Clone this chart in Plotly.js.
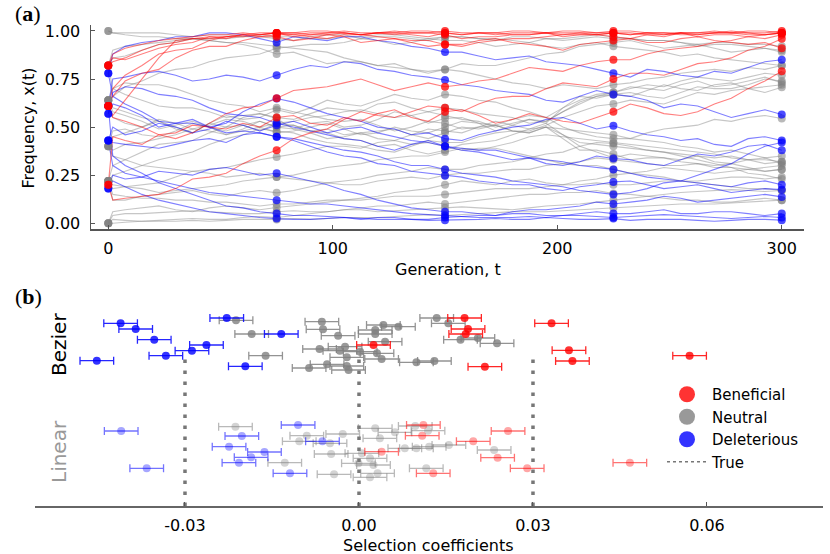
<!DOCTYPE html>
<html><head><meta charset="utf-8">
<script src="https://cdn.plot.ly/plotly-3.0.1.min.js"></script>
<style>html,body{margin:0;padding:0;background:#fff}</style>
</head><body><div id="chart" style="width:830px;height:554px"></div>
<script>
// ---------- Panel (a): allele frequency trajectories ----------
const gens = [0,2,7.5,15,22.5,30,37.5,45,52.5,60,67.5,75,82.5,90,97.5,105,112.5,120,127.5,135,142.5,150,157.5,165,172.5,180,187.5,195,202.5,210,217.5,225,232.5,240,247.5,255,262.5,270,277.5,285,292.5,300];
const sampleGens = [0,75,150,225,300];

const redTrajectories = [
 [0.82,0.84,0.86,0.90,0.93,0.94,0.96,0.96,0.97,0.98,0.98,0.99,0.98,0.99,0.99,1.00,0.99,0.99,1.00,0.99,0.99,1.00,0.99,0.99,0.98,0.99,0.99,0.99,1.00,1.00,0.99,0.99,0.98,0.99,0.99,0.99,0.99,1.00,0.99,0.99,0.98,0.99],
 [0.61,0.70,0.77,0.82,0.88,0.90,0.91,0.95,0.97,0.97,0.98,0.99,0.97,0.98,0.99,0.99,0.98,0.99,0.99,0.98,0.97,0.99,0.98,0.99,0.99,0.98,0.98,0.99,0.99,0.99,0.98,0.99,0.99,0.98,0.97,0.99,0.98,0.99,0.99,0.98,0.98,0.99],
 [0.82,0.86,0.85,0.88,0.91,0.93,0.94,0.97,0.96,0.98,0.97,0.98,0.98,0.97,0.96,0.98,0.98,0.99,0.98,0.99,0.99,0.98,0.96,0.97,0.97,0.98,0.98,0.99,0.97,0.98,0.98,0.97,0.96,0.98,0.98,0.99,0.97,0.98,0.98,0.97,0.96,0.98],
 [0.61,0.66,0.74,0.78,0.80,0.86,0.90,0.92,0.92,0.95,0.97,0.97,0.95,0.96,0.98,0.97,0.94,0.95,0.96,0.94,0.92,0.93,0.93,0.95,0.96,0.94,0.93,0.92,0.90,0.93,0.94,0.95,0.96,0.94,0.94,0.96,0.97,0.95,0.94,0.93,0.94,0.91],
 [0.20,0.12,0.13,0.14,0.15,0.18,0.23,0.24,0.26,0.31,0.35,0.38,0.44,0.47,0.49,0.54,0.58,0.56,0.55,0.58,0.61,0.60,0.58,0.62,0.65,0.66,0.66,0.70,0.73,0.72,0.71,0.75,0.78,0.78,0.77,0.80,0.83,0.84,0.86,0.90,0.92,0.96],
 [0.20,0.45,0.43,0.41,0.46,0.44,0.47,0.52,0.57,0.60,0.61,0.65,0.69,0.70,0.71,0.73,0.75,0.72,0.69,0.71,0.73,0.71,0.72,0.74,0.75,0.78,0.81,0.80,0.79,0.82,0.84,0.85,0.85,0.88,0.90,0.91,0.92,0.94,0.95,0.97,0.98,0.99],
 [0.61,0.56,0.64,0.75,0.86,0.95,0.96,0.97,0.97,0.98,0.99,0.99,0.99,0.98,0.98,0.99,0.98,0.97,0.96,0.95,0.95,0.93,0.92,0.94,0.95,0.96,0.96,0.97,0.98,0.98,0.98,0.99,0.98,0.99,0.99,0.98,0.98,0.99,1.00,0.99,0.99,1.00],
 [0.61,0.55,0.53,0.50,0.46,0.47,0.51,0.50,0.49,0.52,0.50,0.55,0.56,0.52,0.51,0.55,0.53,0.57,0.59,0.55,0.53,0.58,0.59,0.56,0.52,0.54,0.57,0.55,0.53,0.52,0.55,0.58,0.62,0.60,0.57,0.56,0.58,0.62,0.65,0.70,0.74,0.79],
 [0.82,0.88,0.91,0.93,0.95,0.96,0.97,0.98,0.98,0.99,0.98,0.99,0.99,1.00,1.00,0.99,0.98,0.99,0.99,1.00,1.00,0.99,0.98,0.99,0.99,1.00,1.00,0.99,0.98,0.99,0.99,1.00,1.00,0.99,0.98,0.99,0.99,0.99,0.99,1.00,1.00,0.99]
];
const blueTrajectories = [
 [0.78,0.88,0.92,0.94,0.95,0.97,0.97,0.99,0.99,0.98,0.96,0.94,0.97,0.96,0.95,0.97,0.97,0.95,0.94,0.92,0.91,0.89,0.89,0.87,0.85,0.86,0.87,0.84,0.83,0.82,0.80,0.78,0.76,0.80,0.79,0.77,0.76,0.79,0.78,0.81,0.84,0.85],
 [0.61,0.75,0.76,0.78,0.79,0.77,0.74,0.75,0.77,0.76,0.74,0.77,0.80,0.82,0.81,0.84,0.83,0.80,0.79,0.77,0.76,0.745,0.72,0.71,0.69,0.68,0.67,0.64,0.63,0.66,0.69,0.67,0.66,0.64,0.60,0.62,0.61,0.58,0.55,0.57,0.59,0.566],
 [0.57,0.62,0.60,0.56,0.50,0.52,0.54,0.50,0.52,0.58,0.62,0.649,0.63,0.60,0.57,0.55,0.53,0.50,0.49,0.46,0.47,0.44,0.43,0.46,0.48,0.50,0.51,0.54,0.55,0.52,0.49,0.507,0.48,0.46,0.45,0.43,0.44,0.41,0.40,0.44,0.45,0.43],
 [0.43,0.50,0.46,0.48,0.52,0.50,0.47,0.49,0.53,0.51,0.48,0.51,0.53,0.50,0.47,0.49,0.50,0.47,0.45,0.43,0.42,0.40,0.38,0.37,0.35,0.33,0.34,0.31,0.30,0.32,0.35,0.337,0.33,0.31,0.30,0.33,0.36,0.35,0.37,0.40,0.41,0.38],
 [0.43,0.42,0.41,0.40,0.39,0.41,0.43,0.44,0.42,0.46,0.47,0.45,0.43,0.40,0.37,0.35,0.34,0.31,0.30,0.27,0.26,0.247,0.24,0.22,0.21,0.20,0.20,0.18,0.17,0.19,0.20,0.215,0.22,0.20,0.18,0.19,0.20,0.18,0.16,0.17,0.18,0.175],
 [0.18,0.25,0.23,0.24,0.27,0.26,0.25,0.28,0.29,0.27,0.25,0.26,0.24,0.22,0.20,0.17,0.15,0.12,0.10,0.08,0.07,0.06,0.06,0.05,0.04,0.06,0.07,0.07,0.08,0.09,0.11,0.10,0.11,0.12,0.14,0.13,0.11,0.12,0.13,0.14,0.15,0.137],
 [0.18,0.22,0.19,0.15,0.12,0.10,0.08,0.06,0.05,0.04,0.03,0.024,0.02,0.02,0.025,0.03,0.02,0.03,0.03,0.02,0.02,0.03,0.035,0.04,0.04,0.05,0.05,0.04,0.04,0.05,0.06,0.05,0.05,0.06,0.07,0.05,0.05,0.06,0.06,0.05,0.04,0.05],
 [0.61,0.35,0.30,0.26,0.21,0.18,0.15,0.12,0.09,0.08,0.06,0.05,0.04,0.04,0.035,0.03,0.025,0.02,0.02,0.02,0.015,0.016,0.02,0.02,0.025,0.02,0.02,0.03,0.025,0.02,0.02,0.024,0.015,0.02,0.02,0.02,0.015,0.01,0.015,0.02,0.02,0.016],
 [0.57,0.68,0.71,0.70,0.67,0.66,0.64,0.60,0.57,0.56,0.55,0.52,0.50,0.48,0.46,0.44,0.43,0.40,0.38,0.41,0.43,0.40,0.39,0.38,0.38,0.36,0.34,0.33,0.32,0.30,0.29,0.28,0.26,0.24,0.23,0.22,0.21,0.20,0.19,0.21,0.22,0.20],
 [0.43,0.30,0.26,0.24,0.22,0.20,0.18,0.16,0.15,0.14,0.13,0.12,0.11,0.10,0.10,0.09,0.08,0.07,0.06,0.05,0.045,0.04,0.035,0.03,0.03,0.03,0.035,0.03,0.04,0.04,0.035,0.03,0.035,0.04,0.045,0.04,0.035,0.03,0.025,0.03,0.035,0.03],
 [0.78,0.66,0.62,0.58,0.53,0.52,0.52,0.50,0.47,0.48,0.47,0.45,0.44,0.42,0.40,0.38,0.37,0.35,0.32,0.30,0.30,0.28,0.26,0.25,0.24,0.22,0.21,0.20,0.19,0.17,0.16,0.15,0.16,0.18,0.21,0.22,0.25,0.28,0.31,0.36,0.40,0.42]
];
const grayTrajectories = [
 [1.00,0.99,0.99,0.99,0.99,0.98,0.97,0.98,0.98,0.97,0.97,0.96,0.95,0.97,0.98,0.98,0.96,0.97,0.97,0.96,0.95,0.97,0.97,0.96,0.96,0.95,0.94,0.96,0.96,0.97,0.98,0.97,0.96,0.95,0.95,0.94,0.92,0.93,0.93,0.92,0.91,0.90],
 [0.82,0.86,0.87,0.90,0.93,0.94,0.96,0.95,0.94,0.93,0.91,0.88,0.89,0.86,0.83,0.84,0.84,0.82,0.81,0.80,0.78,0.80,0.83,0.82,0.82,0.84,0.86,0.88,0.89,0.92,0.93,0.94,0.95,0.93,0.91,0.92,0.93,0.91,0.89,0.90,0.91,0.89],
 [0.64,0.66,0.71,0.74,0.78,0.80,0.81,0.84,0.86,0.87,0.88,0.91,0.92,0.93,0.93,0.94,0.96,0.95,0.93,0.94,0.96,0.95,0.95,0.94,0.92,0.93,0.94,0.92,0.91,0.93,0.94,0.92,0.91,0.90,0.89,0.87,0.88,0.86,0.85,0.84,0.83,0.82],
 [0.64,0.60,0.58,0.55,0.53,0.50,0.47,0.52,0.56,0.54,0.55,0.59,0.57,0.60,0.64,0.62,0.61,0.64,0.67,0.65,0.64,0.67,0.66,0.64,0.63,0.60,0.58,0.55,0.60,0.64,0.67,0.68,0.71,0.70,0.69,0.72,0.74,0.71,0.72,0.74,0.76,0.73],
 [0.40,0.45,0.47,0.50,0.53,0.49,0.47,0.52,0.50,0.55,0.57,0.545,0.49,0.52,0.53,0.50,0.51,0.54,0.58,0.56,0.52,0.545,0.55,0.52,0.48,0.51,0.54,0.53,0.58,0.62,0.66,0.67,0.66,0.69,0.72,0.70,0.69,0.72,0.73,0.70,0.68,0.707],
 [0.40,0.38,0.41,0.42,0.44,0.46,0.49,0.48,0.46,0.49,0.53,0.50,0.51,0.48,0.49,0.46,0.47,0.44,0.43,0.46,0.49,0.48,0.47,0.50,0.53,0.51,0.49,0.52,0.46,0.40,0.37,0.34,0.36,0.35,0.34,0.33,0.35,0.32,0.31,0.33,0.34,0.311],
 [0.22,0.30,0.33,0.37,0.41,0.42,0.43,0.47,0.50,0.51,0.48,0.52,0.51,0.48,0.47,0.44,0.43,0.40,0.41,0.38,0.36,0.38,0.41,0.42,0.43,0.46,0.49,0.50,0.44,0.38,0.38,0.36,0.33,0.34,0.34,0.32,0.31,0.30,0.31,0.29,0.27,0.28],
 [0.64,0.58,0.56,0.53,0.49,0.51,0.53,0.50,0.46,0.48,0.50,0.47,0.48,0.50,0.52,0.49,0.46,0.47,0.50,0.48,0.47,0.50,0.53,0.52,0.51,0.54,0.56,0.55,0.50,0.47,0.45,0.44,0.44,0.47,0.49,0.50,0.51,0.54,0.53,0.55,0.56,0.545],
 [0.22,0.12,0.12,0.14,0.15,0.16,0.17,0.15,0.14,0.16,0.17,0.158,0.17,0.19,0.21,0.22,0.23,0.25,0.26,0.27,0.29,0.28,0.28,0.30,0.31,0.32,0.34,0.36,0.37,0.40,0.42,0.415,0.40,0.38,0.37,0.35,0.33,0.31,0.29,0.26,0.25,0.23],
 [0.00,0.02,0.015,0.01,0.015,0.02,0.025,0.02,0.02,0.03,0.035,0.03,0.04,0.05,0.06,0.07,0.08,0.09,0.09,0.10,0.11,0.10,0.11,0.12,0.13,0.14,0.15,0.15,0.16,0.16,0.17,0.155,0.15,0.14,0.13,0.12,0.12,0.11,0.11,0.12,0.13,0.12],
 [0.00,0.06,0.07,0.08,0.09,0.07,0.06,0.08,0.09,0.08,0.07,0.082,0.09,0.10,0.11,0.12,0.13,0.14,0.16,0.17,0.18,0.20,0.22,0.21,0.20,0.22,0.23,0.21,0.20,0.22,0.23,0.25,0.26,0.27,0.29,0.28,0.27,0.26,0.27,0.28,0.29,0.30],
 [0.22,0.18,0.19,0.20,0.21,0.24,0.27,0.28,0.29,0.31,0.33,0.345,0.36,0.38,0.40,0.40,0.39,0.42,0.43,0.41,0.42,0.40,0.38,0.39,0.39,0.37,0.35,0.33,0.31,0.30,0.30,0.28,0.26,0.25,0.24,0.22,0.21,0.20,0.19,0.18,0.18,0.17],
 [0.82,0.70,0.67,0.64,0.61,0.60,0.60,0.58,0.55,0.56,0.57,0.55,0.54,0.57,0.60,0.59,0.58,0.62,0.63,0.60,0.58,0.60,0.59,0.57,0.56,0.55,0.52,0.53,0.58,0.63,0.66,0.68,0.70,0.72,0.71,0.74,0.76,0.75,0.74,0.76,0.78,0.77],
 [0.40,0.48,0.49,0.46,0.45,0.48,0.52,0.50,0.48,0.51,0.53,0.50,0.49,0.47,0.44,0.45,0.47,0.48,0.49,0.46,0.44,0.47,0.50,0.49,0.51,0.48,0.47,0.50,0.49,0.48,0.47,0.46,0.44,0.43,0.42,0.40,0.39,0.37,0.38,0.36,0.34,0.35],
 [1.00,0.99,0.98,0.97,0.97,0.96,0.96,0.95,0.94,0.94,0.93,0.92,0.91,0.90,0.89,0.86,0.84,0.82,0.83,0.80,0.79,0.80,0.79,0.77,0.75,0.73,0.72,0.70,0.72,0.71,0.70,0.72,0.73,0.75,0.76,0.78,0.79,0.80,0.79,0.81,0.80,0.82],
 [0.64,0.70,0.73,0.72,0.72,0.70,0.67,0.64,0.62,0.61,0.58,0.60,0.58,0.56,0.54,0.53,0.54,0.51,0.48,0.50,0.53,0.52,0.49,0.50,0.51,0.48,0.47,0.50,0.46,0.42,0.41,0.40,0.39,0.38,0.37,0.36,0.35,0.34,0.35,0.33,0.31,0.32],
 [0.22,0.25,0.27,0.30,0.33,0.35,0.37,0.41,0.44,0.46,0.49,0.48,0.47,0.44,0.42,0.41,0.40,0.38,0.37,0.40,0.43,0.42,0.42,0.45,0.47,0.48,0.48,0.51,0.55,0.58,0.61,0.62,0.64,0.63,0.62,0.65,0.68,0.67,0.69,0.70,0.71,0.72],
 [0.00,0.00,0.005,0.01,0.01,0.01,0.015,0.01,0.015,0.02,0.02,0.02,0.025,0.02,0.025,0.03,0.03,0.03,0.035,0.04,0.045,0.04,0.045,0.05,0.055,0.06,0.06,0.06,0.065,0.07,0.075,0.08,0.085,0.09,0.095,0.10,0.10,0.10,0.105,0.11,0.115,0.12],
 [0.22,0.15,0.14,0.13,0.13,0.12,0.12,0.11,0.11,0.10,0.09,0.10,0.10,0.11,0.12,0.12,0.12,0.13,0.14,0.14,0.14,0.15,0.16,0.17,0.18,0.18,0.18,0.19,0.20,0.20,0.21,0.20,0.20,0.21,0.22,0.22,0.22,0.23,0.24,0.24,0.23,0.24],
 [0.82,0.90,0.92,0.93,0.94,0.95,0.96,0.96,0.96,0.97,0.98,0.97,0.97,0.96,0.96,0.97,0.97,0.98,0.98,0.97,0.96,0.97,0.97,0.96,0.95,0.97,0.97,0.96,0.95,0.96,0.97,0.96,0.96,0.95,0.95,0.94,0.93,0.94,0.94,0.93,0.93,0.92],
 [0.40,0.35,0.33,0.30,0.29,0.28,0.27,0.26,0.24,0.25,0.26,0.24,0.23,0.22,0.21,0.20,0.20,0.22,0.23,0.24,0.23,0.25,0.26,0.26,0.27,0.28,0.28,0.30,0.31,0.32,0.34,0.33,0.32,0.31,0.30,0.30,0.31,0.29,0.29,0.28,0.27,0.28],
 [0.64,0.55,0.52,0.50,0.54,0.52,0.49,0.51,0.54,0.53,0.50,0.52,0.53,0.55,0.56,0.58,0.59,0.57,0.55,0.56,0.58,0.56,0.54,0.53,0.50,0.52,0.54,0.52,0.60,0.66,0.65,0.67,0.68,0.66,0.65,0.68,0.71,0.70,0.70,0.72,0.75,0.74],
 [0.22,0.20,0.19,0.18,0.16,0.17,0.18,0.19,0.20,0.22,0.23,0.24,0.25,0.27,0.29,0.30,0.31,0.33,0.34,0.35,0.35,0.37,0.39,0.38,0.40,0.42,0.45,0.46,0.45,0.44,0.43,0.42,0.41,0.40,0.39,0.38,0.37,0.36,0.34,0.33,0.33,0.32],
 [0.00,0.04,0.05,0.05,0.055,0.06,0.065,0.06,0.055,0.05,0.05,0.06,0.065,0.06,0.06,0.07,0.07,0.06,0.065,0.07,0.075,0.08,0.085,0.08,0.075,0.07,0.08,0.09,0.095,0.10,0.11,0.12,0.13,0.14,0.15,0.16,0.165,0.17,0.175,0.17,0.165,0.17]
];
const freqTicks = [0, 0.25, 0.5, 0.75, 1];
const genTicks = [0, 100, 200, 300];

// ---------- Panel (b): inferred selection coefficients ----------
// s = estimate, j = vertical jitter within the method's band
const bezBenS = [0.0025,0.0182,0.0188,0.0184,0.0217,0.0332,0.0362,0.0368,0.0570];
const bezBenJ = [1.61,1.88,1.77,1.72,1.393,1.827,1.557,1.45,1.503];
const bezNeuS = [-0.0212,-0.0185,-0.0161,-0.0064,-0.0062,-0.0036,-0.0068,-0.0086,-0.0033,-0.0024,-0.0021,-0.0055,-0.0021,-0.0018,0.0002,0.0042,0.0028,0.0028,0.0068,0.0045,0.0031,0.0039,0.0099,0.0134,0.0154,0.0175,0.0205,0.0238,0.0130];
const bezNeuJ = [1.857,1.72,1.503,1.843,1.767,1.703,1.57,1.38,1.553,1.593,1.487,1.417,1.40,1.36,1.543,1.81,1.76,1.72,1.793,1.643,1.527,1.47,1.437,1.88,1.827,1.663,1.68,1.627,1.45];
const bezDelS = [-0.0411,-0.0385,-0.0353,-0.0452,-0.0333,-0.0288,-0.0263,-0.0228,-0.0134,-0.0196];
const bezDelJ = [1.827,1.77,1.663,1.453,1.503,1.553,1.61,1.88,1.72,1.397];

const linBenS = [0.0039,0.0111,0.0109,0.0257,0.0197,0.0239,0.0128,0.0290,0.0467];
const linBenJ = [0.543,0.81,0.703,0.75,0.647,0.483,0.327,0.377,0.433];
const linNeuS = [-0.0213,-0.0090,-0.0103,-0.0050,-0.0028,-0.0128,-0.0048,-0.0043,-0.0001,0.0019,0.0005,0.0028,0.0036,0.0062,0.0079,0.0097,0.0019,0.0032,0.0025,0.0119,0.0099,0.0121,0.0155,0.0233,0.0116];
const linNeuJ = [0.793,0.703,0.647,0.627,0.72,0.433,0.52,0.317,0.427,0.477,0.527,0.777,0.677,0.737,0.577,0.80,0.287,0.327,0.41,0.753,0.577,0.593,0.61,0.56,0.377];
const linDelS = [-0.0410,-0.0366,-0.0202,-0.0224,-0.0186,-0.0207,-0.0163,-0.0105,-0.0063,-0.0119];
const linDelJ = [0.75,0.377,0.70,0.593,0.487,0.433,0.54,0.81,0.647,0.327];

const errHalf = 0.0029;
const trueS = [-0.03, 0.00, 0.03];
const trueTop = 1.47;
const selTicks = [-0.03, 0.00, 0.03, 0.06];
const selTickText = ['-0.03', '0.00', '0.03', '0.06'];
const classNames = ['Beneficial', 'Neutral', 'Deleterious'];

// ---------- build traces ----------
const traces = [];
function addLines(list, color) {
  list.forEach(tr => traces.push({
    x: gens, y: tr, type: 'scatter', mode: 'lines', xaxis: 'x', yaxis: 'y',
    line: {color: color, width: 1.1}, showlegend: false, hoverinfo: 'skip'
  }));
}
addLines(grayTrajectories, 'rgba(128,128,128,0.45)');
addLines(blueTrajectories, 'rgba(0,0,255,0.5)');
addLines(redTrajectories, 'rgba(255,0,0,0.5)');

function addSamples(list, color) {
  const xs = [], ys = [];
  list.forEach(tr => sampleGens.forEach(g => { xs.push(g); ys.push(tr[gens.indexOf(g)]); }));
  traces.push({x: xs, y: ys, type: 'scatter', mode: 'markers', xaxis: 'x', yaxis: 'y',
    marker: {color: color, size: 8, line: {width: 0}}, showlegend: false, hoverinfo: 'skip'});
}
addSamples(grayTrajectories, 'rgba(128,128,128,0.55)');
addSamples(blueTrajectories, 'rgba(0,0,255,0.7)');
addSamples(redTrajectories, 'rgba(255,0,0,0.75)');

// true-value dotted lines
trueS.forEach(s => traces.push({
  x: [s, s], y: [0, trueTop], type: 'scatter', mode: 'lines', xaxis: 'x2', yaxis: 'y2',
  line: {color: '#777', width: 3.5, dash: '3.5px,7.5px'}, showlegend: false, hoverinfo: 'skip'
}));

function addEst(s, j, mColor, eColor) {
  traces.push({x: s, y: j, type: 'scatter', mode: 'markers', xaxis: 'x2', yaxis: 'y2',
    marker: {color: mColor, size: 8, line: {width: 0}},
    error_x: {type: 'constant', value: errHalf, color: eColor, thickness: 1.3, width: 4},
    showlegend: false, hoverinfo: 'skip'});
}
addEst(linNeuS, linNeuJ, 'rgba(128,128,128,0.35)', 'rgba(128,128,128,0.55)');
addEst(linDelS, linDelJ, 'rgba(0,0,255,0.35)', 'rgba(0,0,255,0.55)');
addEst(linBenS, linBenJ, 'rgba(255,0,0,0.35)', 'rgba(255,0,0,0.55)');
addEst(bezNeuS, bezNeuJ, 'rgba(128,128,128,0.8)', 'rgba(128,128,128,0.85)');
addEst(bezDelS, bezDelJ, 'rgba(0,0,255,0.8)', 'rgba(0,0,255,0.85)');
addEst(bezBenS, bezBenJ, 'rgba(255,0,0,0.8)', 'rgba(255,0,0,0.85)');

// legend entries
const legendColors = ['rgba(255,0,0,0.8)', 'rgba(128,128,128,0.8)', 'rgba(0,0,255,0.8)'];
classNames.forEach((n, i) => traces.push({
  x: [null], y: [null], type: 'scatter', mode: 'markers', xaxis: 'x2', yaxis: 'y2',
  name: n, marker: {color: legendColors[i], size: 16}, showlegend: true
}));
traces.push({x: [null], y: [null], type: 'scatter', mode: 'lines', xaxis: 'x2', yaxis: 'y2',
  name: 'True', line: {color: '#777', width: 1.3, dash: 'dot'}, showlegend: true});

const F = 'DejaVu Sans';
function ann(text, px, py, size, extra) {
  return Object.assign({text: text, x: px / 830, y: 1 - py / 554, xref: 'paper', yref: 'paper',
    showarrow: false, xanchor: 'center', yanchor: 'middle', font: {family: F, size: size, color: '#000'}}, extra || {});
}

const layout = {
  width: 830, height: 554,
  margin: {l: 0, r: 0, t: 0, b: 0},
  paper_bgcolor: '#fff', plot_bgcolor: 'rgba(0,0,0,0)',
  font: {family: F, size: 16, color: '#000'},
  showlegend: true,
  legend: {x: 662 / 830, y: 1 - 378 / 554, xanchor: 'left', yanchor: 'top',
    font: {family: F, size: 15, color: '#000'}, bgcolor: 'rgba(0,0,0,0)',
    itemwidth: 40, tracegroupgap: 0},
  xaxis: {domain: [91 / 830, 804 / 830], range: [-7.7, 309.9], anchor: 'y',
    tickvals: genTicks, ticks: 'inside', ticklen: 4, tickcolor: '#555',
    showline: true, linecolor: '#555', linewidth: 1.5, showgrid: false, zeroline: false,
    ticklabelstandoff: 4, tickfont: {size: 16}},
  yaxis: {domain: [1 - 229 / 554, 1 - 25 / 554], range: [-0.03, 1.031], anchor: 'x',
    tickvals: freqTicks, tickformat: '.2f', ticks: 'inside', ticklen: 4, tickcolor: '#555',
    showline: true, linecolor: '#555', linewidth: 1.5, showgrid: false, zeroline: false,
    ticklabelstandoff: 6, tickfont: {size: 16}},
  xaxis2: {domain: [35 / 830, 822.7 / 830], range: [-0.05586, 0.07995], anchor: 'y2',
    tickvals: selTicks, ticktext: selTickText, ticks: 'inside', ticklen: 4, tickcolor: '#555',
    showline: true, linecolor: '#666', linewidth: 1.5, showgrid: false, zeroline: false,
    ticklabelstandoff: 4, tickfont: {size: 16}},
  yaxis2: {domain: [1 - 506 / 554, 1 - 290 / 554], range: [0, 2.16], anchor: 'x2', visible: false},
  annotations: [
    ann('(<b>a</b>)', 28, 13, 22, {font: {family: 'Liberation Serif', size: 22, color: '#000'}}),
    ann('(<b>b</b>)', 28, 296, 22, {font: {family: 'Liberation Serif', size: 22, color: '#000'}}),
    ann('Frequency, x(t)', 28.5, 128, 16, {textangle: -90}),
    ann('Generation, t', 447.5, 269.5, 16),
    ann('Selection coefficients', 428.5, 545, 16),
    ann('Bezier', 59, 345, 20, {textangle: -90}),
    ann('Linear', 59, 452, 20, {textangle: -90, font: {family: F, size: 20, color: '#999'}})
  ]
};

Plotly.newPlot('chart', traces, layout, {staticPlot: true, displayModeBar: false});
</script>
</body></html>
